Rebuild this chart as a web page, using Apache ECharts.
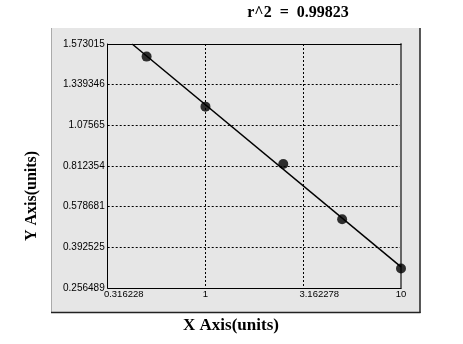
<!DOCTYPE html>
<html>
<head>
<meta charset="utf-8">
<script src="https://cdn.jsdelivr.net/npm/echarts@6/dist/echarts.min.js"></script>
<style>html,body{margin:0;padding:0;background:#fff;}#c{width:463px;height:344px;}</style>
</head>
<body>
<div id="c"></div>
<script>
// Standard points (x on log axis, y as position on the non-linear labelled y axis)
var pointX = [0.5, 1, 2.5, 5, 10];
var pointYPos = [5.69, 4.46, 3.05, 1.69, 0.48];
// Fitted curve endpoints
var fitX = [0.4218, 10];
var fitYPos = [6.0, 0.52];
// Tick labels
var yTickLabels = ['0.256489', '0.392525', '0.578681', '0.812354', '1.07565', '1.339346', '1.573015'];
var xMin = 0.316228, xMax = 10;
var titleText = 'r^2  =  0.99823';
var xTitle = 'X Axis(units)';
var yTitle = 'Y Axis(units)';

var chart = echarts.init(document.getElementById('c'), null, {renderer: 'canvas'});
var labelFamily = 'Liberation Sans, Arial, sans-serif';
var dash = {color: '#000', width: 1, type: [2, 2]};

chart.setOption({
  animation: false,
  backgroundColor: '#fff',
  graphic: [
    {type: 'rect', shape: {x: 51, y: 28, width: 369, height: 284}, style: {fill: '#e6e6e6'}, z: -10},
    {type: 'line', shape: {x1: 51.5, y1: 28, x2: 51.5, y2: 312}, style: {stroke: '#aaa', lineWidth: 1}, z: -9},
    {type: 'line', shape: {x1: 420, y1: 28, x2: 420, y2: 313}, style: {stroke: '#222', lineWidth: 1.5}, z: -9},
    {type: 'line', shape: {x1: 51, y1: 312.5, x2: 420.5, y2: 312.5}, style: {stroke: '#222', lineWidth: 1.5}, z: -9},
    {type: 'text', x: 298, y: 12.5, style: {text: titleText, textAlign: 'center', textVerticalAlign: 'middle', font: 'bold 16px "Liberation Serif", serif', fill: '#000'}},
    {type: 'text', x: 231, y: 326, style: {text: xTitle, textAlign: 'center', textVerticalAlign: 'middle', font: 'bold 17px "Liberation Serif", serif', fill: '#000'}},
    {type: 'text', x: 32, y: 196, rotation: Math.PI / 2, style: {text: yTitle, textAlign: 'center', textVerticalAlign: 'middle', font: 'bold 16px "Liberation Serif", serif', fill: '#000'}}
  ],
  grid: {left: 107.7, right: 62, top: 44, bottom: 56, outerBoundsMode: 'none', containLabel: false},
  xAxis: [{
    type: 'log', logBase: 10, min: xMin, max: xMax, interval: 0.5,
    axisLine: {show: true, onZero: false, lineStyle: {color: '#000', width: 1}},
    axisTick: {show: false},
    splitLine: {show: true, showMinLine: false, showMaxLine: false, lineStyle: dash},
    axisLabel: {
      show: true, showMinLabel: true, showMaxLabel: true, hideOverlap: false,
      margin: 1, align: 'center', verticalAlign: 'top',
      fontFamily: labelFamily, fontSize: 9.5, color: '#000',
      formatter: function (v) {
        var s = String(+(+v).toFixed(6));
        if (s.length > 3) return '{l|' + s + '}';
        return s;
      },
      rich: {l: {fontFamily: labelFamily, fontSize: 9.5, color: '#000', padding: [0, 0, 0, 32]}}
    }
  }, {
    type: 'value', min: 0, max: 1, position: 'top',
    axisLine: {show: true, onZero: false, lineStyle: {color: '#000', width: 1}},
    axisTick: {show: false}, axisLabel: {show: false}, splitLine: {show: false}
  }],
  yAxis: [{
    type: 'value', min: 0, max: 6, interval: 1,
    axisLine: {show: true, onZero: false, lineStyle: {color: '#000', width: 1}},
    axisTick: {show: false},
    splitLine: {show: true, showMinLine: false, showMaxLine: false, lineStyle: dash},
    axisLabel: {
      show: true, showMinLabel: true, showMaxLabel: true, margin: 3,
      fontFamily: labelFamily, fontSize: 10, color: '#000',
      formatter: function (v) { return yTickLabels[Math.round(v)]; }
    }
  }, {
    type: 'value', min: 0, max: 6, position: 'right',
    axisLine: {show: true, onZero: false, lineStyle: {color: '#666', width: 2}},
    axisTick: {show: false}, axisLabel: {show: false}, splitLine: {show: false}
  }],
  series: [{
    type: 'line', xAxisIndex: 0, yAxisIndex: 0,
    data: fitX.map(function (x, i) { return [x, fitYPos[i]]; }),
    symbol: 'none', lineStyle: {color: '#000', width: 1.5}, z: 3
  }, {
    type: 'scatter', xAxisIndex: 0, yAxisIndex: 0,
    data: pointX.map(function (x, i) { return [x, pointYPos[i]]; }),
    symbol: 'circle', symbolSize: 10, itemStyle: {color: '#000'}, z: 4
  }]
});
</script>
</body>
</html>
